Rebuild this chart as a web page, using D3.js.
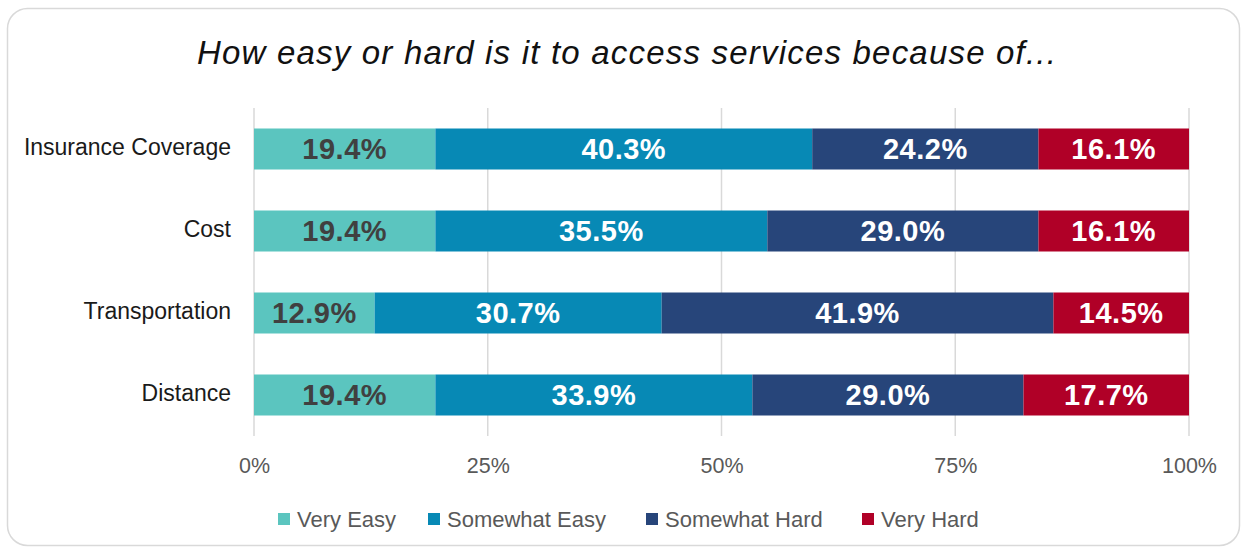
<!DOCTYPE html>
<html>
<head>
<meta charset="utf-8">
<script src="https://cdn.jsdelivr.net/npm/d3@7/dist/d3.min.js"></script>
<style>
  html, body { margin: 0; padding: 0; background: #ffffff; }
  svg { display: block; font-family: "Liberation Sans", Arial, sans-serif; }
</style>
</head>
<body>
<svg id="chart" width="1244" height="550"></svg>
<script>
// Survey categories, top to bottom
const categories = ["Insurance Coverage", "Cost", "Transportation", "Distance"];
// Response levels (stack order, left to right)
const seriesNames = ["Very Easy", "Somewhat Easy", "Somewhat Hard", "Very Hard"];
// Percent of respondents per category, one array per response level
const veryEasy     = [19.4, 19.4, 12.9, 19.4];
const somewhatEasy = [40.3, 35.5, 30.7, 33.9];
const somewhatHard = [24.2, 29.0, 41.9, 29.0];
const veryHard     = [16.1, 16.1, 14.5, 17.7];
// Axis tick values (percent)
const tickValues = [0, 25, 50, 75, 100];

const colors = ["#5bc5bf", "#0789b5", "#27457a", "#b00027"];
const labelColors = ["#404040", "#ffffff", "#ffffff", "#ffffff"];

const rows = categories.map((c, i) => ({
  category: c,
  "Very Easy": veryEasy[i],
  "Somewhat Easy": somewhatEasy[i],
  "Somewhat Hard": somewhatHard[i],
  "Very Hard": veryHard[i]
}));

const svg = d3.select("#chart");
const FONT = "\"Liberation Sans\", Arial, sans-serif";

// Card frame
svg.append("rect")
  .attr("x", 7.5).attr("y", 8.5)
  .attr("width", 1232).attr("height", 537)
  .attr("rx", 20).attr("ry", 20)
  .attr("fill", "#ffffff")
  .attr("stroke", "#d9d9d9")
  .attr("stroke-width", 1.5);

// Title
svg.append("text")
  .attr("x", 627).attr("y", 64)
  .attr("text-anchor", "middle")
  .attr("font-size", 33)
  .attr("font-style", "italic")
  .attr("letter-spacing", 1.2)
  .attr("fill", "#111111")
  .text("How easy or hard is it to access services because of...");

const plot = { left: 254, right: 1189, top: 108, bottom: 436 };

const x = d3.scaleLinear().domain([0, 100]).range([plot.left, plot.right]);
const y = d3.scaleBand().domain(categories).range([plot.top, plot.bottom]).paddingInner(0.5).paddingOuter(0.25);

// Vertical gridlines
svg.append("g")
  .selectAll("line")
  .data(tickValues)
  .join("line")
  .attr("x1", d => x(d)).attr("x2", d => x(d))
  .attr("y1", plot.top).attr("y2", plot.bottom)
  .attr("stroke", "#d9d9d9")
  .attr("stroke-width", 1.5);

// X axis tick labels
const xAxis = d3.axisBottom(x)
  .tickValues(tickValues)
  .tickFormat(d => d + "%")
  .tickSize(0)
  .tickPadding(0);
const gx = svg.append("g")
  .attr("transform", `translate(0,${plot.bottom + 37})`)
  .call(xAxis);
gx.select(".domain").remove();
gx.selectAll("text")
  .attr("font-size", 21.5)
  .attr("fill", "#595959")
  .attr("font-family", FONT)
  .attr("dy", 0);

// Y axis category labels
const yAxis = d3.axisLeft(y).tickSize(0).tickPadding(23);
const gy = svg.append("g")
  .attr("transform", `translate(${plot.left},0)`)
  .call(yAxis);
gy.select(".domain").remove();
gy.selectAll("text")
  .attr("font-size", 23)
  .attr("fill", "#1a1a1a")
  .attr("font-family", FONT)
  .attr("dy", "0.28em");

// Stacked bars
const stack = d3.stack().keys(seriesNames);
const stacked = stack(rows);

const layers = svg.append("g")
  .selectAll("g")
  .data(stacked)
  .join("g")
  .attr("fill", (d, i) => colors[i]);

layers.selectAll("rect")
  .data(d => d)
  .join("rect")
  .attr("x", d => x(d[0]))
  .attr("y", d => y(d.data.category))
  .attr("width", d => x(d[1]) - x(d[0]))
  .attr("height", y.bandwidth());

// Value labels
stacked.forEach((layer, li) => {
  svg.append("g")
    .selectAll("text")
    .data(layer)
    .join("text")
    .attr("x", d => (x(d[0]) + x(d[1])) / 2)
    .attr("y", d => y(d.data.category) + y.bandwidth() / 2)
    .attr("dy", "0.36em")
    .attr("text-anchor", "middle")
    .attr("font-size", 29)
    .attr("font-weight", "bold")
    .attr("letter-spacing", 0.5)
    .attr("fill", labelColors[li])
    .text(d => (d[1] - d[0]).toFixed(1) + "%");
});

// Legend
const legendStarts = [278, 428, 646, 862];
const legend = svg.append("g");
seriesNames.forEach((name, i) => {
  const g = legend.append("g").attr("transform", `translate(${legendStarts[i]},519)`);
  g.append("rect")
    .attr("x", 0).attr("y", -6)
    .attr("width", 12).attr("height", 12)
    .attr("fill", colors[i]);
  g.append("text")
    .attr("x", 19).attr("y", 0)
    .attr("dy", "0.36em")
    .attr("font-size", 22)
    .attr("fill", "#595959")
    .text(name);
});
</script>
</body>
</html>
